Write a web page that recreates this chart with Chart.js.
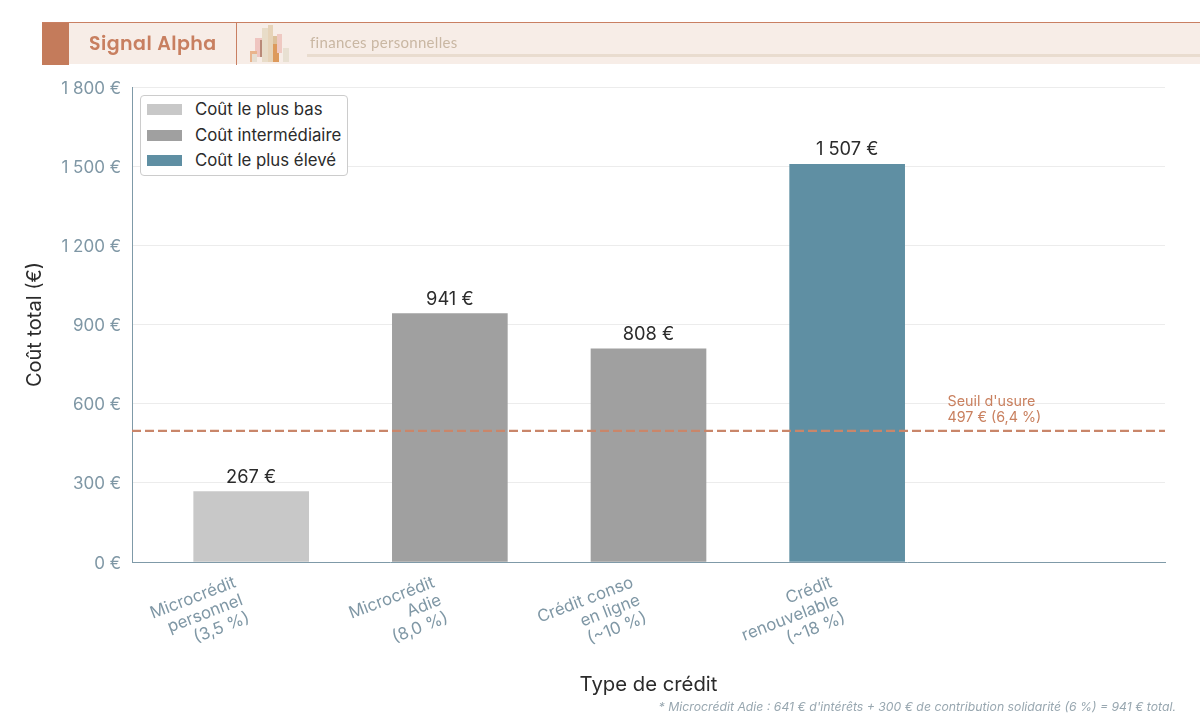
<!DOCTYPE html>
<html lang="fr">
<head>
<meta charset="UTF-8">
<title>Coût total par type de crédit</title>
<script src="https://cdn.jsdelivr.net/npm/chart.js"></script>
<style>
    body { margin: 0; background: #fff; font-family: Inter, sans-serif; }
    #page { position: relative; width: 1200px; height: 721px; overflow: hidden; }
    canvas { position: absolute; left: 0; top: 0; }
    /* header band */
    #band { position: absolute; left: 42px; top: 22px; width: 1158px; height: 42px; background: #f7ede7; border-top: 1px solid #c97f62; box-sizing: border-box; }
    #band .block { position: absolute; left: 0; top: 0; width: 27px; height: 42px; background: #c47b5b; }
    #band .sep { position: absolute; left: 194px; top: 0; width: 1px; height: 42px; background: #c97f62; }
    #band .brand { position: absolute; left: 47px; top: 6px; font: 600 19px Poppins, "Open Sans", sans-serif; letter-spacing: .45px; color: #c87f60; }
    #band .tag { position: absolute; left: 268px; top: 10px; font: 400 15px Lato, sans-serif; letter-spacing: .3px; color: #c9b7a3; }
    #band .rule { position: absolute; left: 265px; top: 31px; right: 0; height: 3px; background: #e9dccf; }
    #band svg { position: absolute; left: 206px; top: 2px; }
    /* legend */
    #legend { position: absolute; left: 140px; top: 95px; width: 208px; height: 81px; box-sizing: border-box; background: #fff; border: 1px solid #ccc; border-radius: 4px; padding: 1px 0 0 6px; color: #2b2b2b; font-size: 16.8px; }
    #legend div { height: 25.5px; line-height: 25px; white-space: nowrap; }
    #legend i { display: inline-block; width: 35px; height: 11px; margin-right: 13px; vertical-align: 0; }
    #note { position: absolute; right: 24px; top: 699px; font: italic 12.25px Inter, sans-serif; color: #98a7b0; white-space: nowrap; }
</style>
</head>
<body>
<div id="page">
    <canvas id="costChart" width="1200" height="721"></canvas>
    <div id="band">
        <div class="block"></div>
        <div class="brand">Signal Alpha</div>
        <div class="sep"></div>
        <svg width="44" height="40">
            <rect x="7" y="13" width="7" height="19" fill="#efc5c0"/>
            <rect x="12" y="15" width="2" height="17" fill="#b98a78"/>
            <rect x="2" y="26" width="7" height="11" fill="#e9b48d"/>
            <rect x="4" y="29" width="5" height="8" fill="#e6ded2"/>
            <rect x="14" y="3" width="6" height="34" fill="#e8dcc8"/>
            <rect x="20" y="0" width="5" height="37" fill="#e6d3b8"/>
            <rect x="25" y="11" width="4" height="26" fill="#dcc09a"/>
            <rect x="25" y="19" width="6" height="18" fill="#dd9a5c"/>
            <rect x="29" y="9" width="5" height="19" fill="#efc9c2"/>
            <rect x="35" y="23" width="6" height="14" fill="#e8e0d2"/>
        </svg>
        <div class="tag">finances personnelles</div>
        <div class="rule"></div>
    </div>
    <div id="legend"></div>
    <div id="note">* Microcrédit Adie : 641 € d'intérêts + 300 € de contribution solidarité (6 %) = 941 € total.</div>
</div>

<script>
    const categories = [
        ['Microcrédit', 'personnel', '(3,5 %)'],
        ['Microcrédit', 'Adie', '(8,0 %)'],
        ['Crédit conso', 'en ligne', '(~10 %)'],
        ['Crédit', 'renouvelable', '(~18 %)']
    ];
    const costs = [267, 941, 808, 1507];
    const costLabels = ['267 €', '941 €', '808 €', '1 507 €'];
    const tierOfBar = [0, 1, 1, 2];
    const tierNames = ['Coût le plus bas', 'Coût intermédiaire', 'Coût le plus élevé'];
    const tierColors = ['#c8c8c8', '#a0a0a0', '#5f8fa3'];
    const yTicks = [0, 300, 600, 900, 1200, 1500, 1800];
    const yTickLabels = ['0 €', '300 €', '600 €', '900 €', '1 200 €', '1 500 €', '1 800 €'];
    const usuryValue = 497;
    const usuryLines = ["Seuil d'usure", '497 € (6,4 %)'];
    const xMin = -0.6, xMax = 4.6;

    // one dataset per cost tier so each bar sits centred on its tick
    const barSets = tierNames.map(function (name, t) {
        return {
            type: 'bar',
            label: name,
            data: costs.map((c, i) => ({ x: i, y: c })).filter((p, i) => tierOfBar[i] === t),
            backgroundColor: tierColors[t],
            barThickness: 115,
            grouped: false,
            order: 2
        };
    });

    const usurySet = {
        type: 'line',
        label: "Seuil d'usure",
        data: [{ x: xMin, y: usuryValue }, { x: xMax, y: usuryValue }],
        borderColor: '#c9866a',
        borderWidth: 2.4,
        borderDash: [9, 4],
        pointRadius: 0,
        order: 1
    };

    // labels over the bars and the threshold note
    const annotations = {
        id: 'annotations',
        afterDatasetsDraw(chart) {
            const ctx = chart.ctx, xs = chart.scales.x, ys = chart.scales.y;
            ctx.save();
            ctx.font = '18.3px Inter';
            ctx.fillStyle = '#2b2b2b';
            ctx.textAlign = 'center';
            ctx.textBaseline = 'alphabetic';
            costs.forEach(function (c, i) {
                ctx.fillText(costLabels[i], xs.getPixelForValue(i), ys.getPixelForValue(c) - 9);
            });
            ctx.font = '14.3px Inter';
            ctx.fillStyle = '#c9805f';
            ctx.textAlign = 'left';
            const lx = xs.getPixelForValue(3.505);
            ctx.fillText(usuryLines[0], lx, ys.getPixelForValue(usuryValue) - 25);
            ctx.fillText(usuryLines[1], lx, ys.getPixelForValue(usuryValue) - 9);
            ctx.restore();
        }
    };

    new Chart(document.getElementById('costChart').getContext('2d'), {
        data: { datasets: barSets.concat([usurySet]) },
        plugins: [annotations],
        options: {
            responsive: false,
            animation: false,
            layout: { padding: { top: 87, right: 35, bottom: 19, left: 0 } },
            plugins: { legend: { display: false }, tooltip: { enabled: false } },
            scales: {
                x: {
                    type: 'linear',
                    offset: false,
                    min: xMin,
                    max: xMax,
                    afterBuildTicks(scale) { scale.ticks = categories.map((c, i) => ({ value: i })); },
                    afterFit(scale) { scale.height = 140; },
                    grid: { display: false },
                    border: { color: '#7f9aa8', width: 1 },
                    ticks: {
                        autoSkip: false,
                        minRotation: 21,
                        maxRotation: 21,
                        padding: 3,
                        labelOffset: -16,
                        color: '#7f97a5',
                        font: { family: 'Inter', size: 16.8, lineHeight: 1.13 },
                        callback: value => categories[value]
                    },
                    title: {
                        display: true,
                        text: 'Type de crédit',
                        color: '#2b2b2b',
                        font: { family: 'Inter', size: 20.3 },
                        padding: { top: 0, bottom: 5 }
                    }
                },
                y: {
                    min: 0,
                    max: 1800,
                    afterBuildTicks(scale) { scale.ticks = yTicks.map(v => ({ value: v })); },
                    afterFit(scale) { scale.width = 132; },
                    grid: { color: '#ececec', drawTicks: false },
                    border: { color: '#7f9aa8', width: 1 },
                    ticks: {
                        padding: 11,
                        labelOffset: 1.5,
                        color: '#7f97a5',
                        font: { family: 'Inter', size: 17 },
                        callback: value => yTickLabels[yTicks.indexOf(value)]
                    },
                    title: {
                        display: true,
                        text: 'Coût total (€)',
                        color: '#2b2b2b',
                        font: { family: 'Inter', size: 20 },
                        padding: { top: 23, bottom: 0 }
                    }
                }
            }
        }
    });

    tierNames.forEach(function (name, t) {
        const row = document.createElement('div');
        const swatch = document.createElement('i');
        swatch.style.background = tierColors[t];
        row.appendChild(swatch);
        row.appendChild(document.createTextNode(name));
        document.getElementById('legend').appendChild(row);
    });
</script>
</body>
</html>
